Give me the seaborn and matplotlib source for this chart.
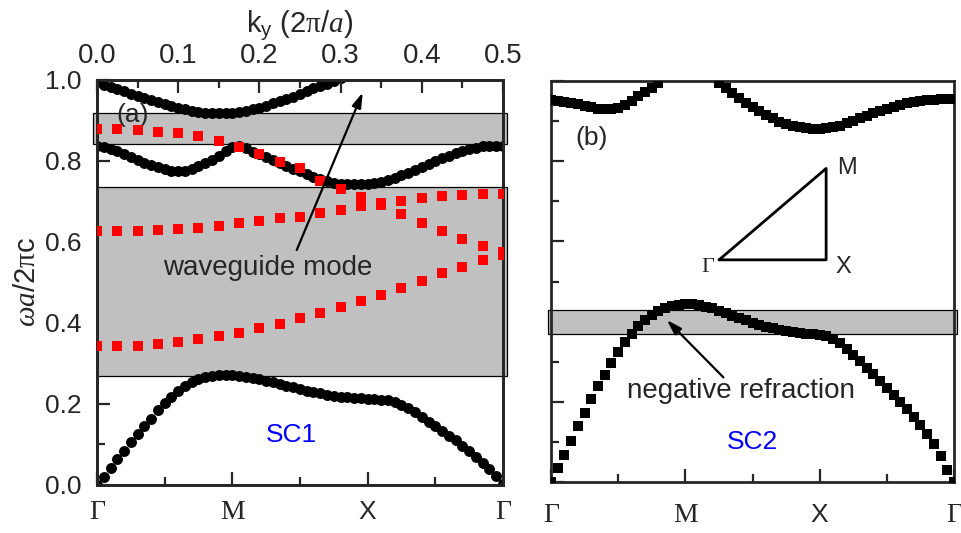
import numpy as np
import matplotlib
matplotlib.use("Agg")
import matplotlib.pyplot as plt
from matplotlib.patches import Rectangle
import seaborn as sns

# k-path Gamma-M-X-Gamma, 20 steps per segment
path = np.linspace(0, 3, 61)
path_ticks = [0, 1, 2, 3]
path_labels = ["Γ", "M", "X", "Γ"]

# SC1 bands (black circles)
sc1_band1 = [0.000, 0.019, 0.041, 0.063, 0.085, 0.106, 0.126, 0.145, 0.164, 0.184,
             0.202, 0.218, 0.232, 0.245, 0.255, 0.262, 0.267, 0.270, 0.271, 0.272,
             0.272, 0.270, 0.267, 0.264, 0.261, 0.257, 0.253, 0.249, 0.245, 0.241,
             0.237, 0.233, 0.229, 0.226, 0.222, 0.219, 0.217, 0.216, 0.215, 0.214,
             0.213, 0.213, 0.211, 0.209, 0.204, 0.197, 0.189, 0.179, 0.167, 0.156,
             0.145, 0.134, 0.122, 0.110, 0.097, 0.083, 0.069, 0.054, 0.039, 0.021,
             0.003]
sc1_band2 = [0.838, 0.835, 0.830, 0.824, 0.817, 0.809, 0.802, 0.795, 0.789, 0.784,
             0.779, 0.776, 0.775, 0.776, 0.780, 0.787, 0.794, 0.803, 0.813, 0.824,
             0.834, 0.836, 0.831, 0.823, 0.816, 0.809, 0.802, 0.795, 0.788, 0.781,
             0.775, 0.768, 0.761, 0.755, 0.750, 0.746, 0.744, 0.742, 0.742, 0.742,
             0.743, 0.745, 0.748, 0.752, 0.757, 0.764, 0.771, 0.778, 0.786, 0.793,
             0.800, 0.807, 0.813, 0.819, 0.824, 0.829, 0.833, 0.836, 0.837, 0.838,
             0.838]
# only visible up to M-X midway (goes above 1.0)
sc1_band3 = [0.995, 0.988, 0.982, 0.977, 0.972, 0.966, 0.961, 0.956, 0.951, 0.945,
             0.940, 0.935, 0.931, 0.927, 0.924, 0.921, 0.919, 0.918, 0.918, 0.918,
             0.919, 0.921, 0.924, 0.927, 0.931, 0.936, 0.942, 0.947, 0.953, 0.959,
             0.966, 0.973, 0.979, 0.985, 0.991, 0.997, 1.004]

# SC2 bands (black squares)
sc2_band1 = [0.000, 0.036, 0.067, 0.103, 0.140, 0.173, 0.207, 0.239, 0.268, 0.297,
             0.324, 0.348, 0.369, 0.389, 0.404, 0.416, 0.427, 0.434, 0.439, 0.442,
             0.443, 0.443, 0.441, 0.437, 0.433, 0.427, 0.421, 0.415, 0.409, 0.403,
             0.397, 0.392, 0.387, 0.383, 0.379, 0.376, 0.374, 0.372, 0.370, 0.369,
             0.367, 0.364, 0.357, 0.346, 0.332, 0.317, 0.301, 0.285, 0.269, 0.252,
             0.235, 0.218, 0.200, 0.182, 0.161, 0.141, 0.120, 0.095, 0.065, 0.031,
             0.000]
nan = np.nan
sc2_band2 = [0.953, 0.951, 0.948, 0.945, 0.942, 0.938, 0.934, 0.931, 0.929, 0.929,
             0.933, 0.940, 0.950, 0.963, 0.973, 0.983, 0.996, nan, nan, nan,
             nan, nan, nan, nan, nan, 0.995, 0.982, 0.969, 0.957, 0.945,
             0.934, 0.924, 0.915, 0.907, 0.899, 0.893, 0.888, 0.885, 0.883, 0.881,
             0.881, 0.882, 0.885, 0.889, 0.895, 0.901, 0.907, 0.913, 0.919, 0.925,
             0.930, 0.935, 0.940, 0.944, 0.947, 0.950, 0.952, 0.953, 0.954, 0.954,
             0.954]

# supercell (red squares) vs k_y
ky = [0.0, 0.025, 0.05, 0.075, 0.1, 0.125, 0.15, 0.175, 0.2, 0.225, 0.25,
      0.275, 0.3, 0.325, 0.35, 0.375, 0.4, 0.425, 0.45, 0.475, 0.5]
guide_a = [0.879, 0.879, 0.877, 0.872, 0.868, 0.862, 0.850, 0.835, 0.817, 0.798, 0.782,
           0.750, 0.730, 0.711, 0.695, 0.668, 0.646, 0.627, 0.607, 0.589, 0.576]
guide_b = [0.626, 0.626, 0.627, 0.630, 0.632, 0.635, 0.640, 0.646, 0.652, 0.658, 0.662,
           0.671, 0.679, 0.688, 0.692, 0.702, 0.708, 0.714, 0.717, 0.719, 0.719]
guide_c = [0.343, 0.342, 0.343, 0.348, 0.352, 0.360, 0.368, 0.376, 0.387, 0.398, 0.412,
           0.424, 0.439, 0.454, 0.469, 0.487, 0.504, 0.523, 0.539, 0.556, 0.568]

# band gaps (grey boxes)
gaps_sc1 = [(0.842, 0.919), (0.269, 0.735)]
gaps_sc2 = [(0.369, 0.429)]

# Brillouin zone inset
bz_x = [1.251, 2.048, 2.048, 1.251]
bz_y = [0.554, 0.554, 0.782, 0.554]

sns.set_style("ticks")
plt.rcParams["font.family"] = ["Liberation Sans", "DejaVu Sans"]
plt.rcParams["mathtext.fontset"] = "custom"
plt.rcParams["mathtext.rm"] = "Liberation Sans"
plt.rcParams["mathtext.it"] = "Liberation Serif:italic"
plt.rcParams["mathtext.sf"] = "Liberation Serif"

fig = plt.figure(figsize=(9.62, 5.33), dpi=100)
ax1 = fig.add_axes([0.1008, 0.0901, 0.422, 0.760])
ax2 = fig.add_axes([0.5728, 0.0957, 0.4189, 0.7523])


def band(ax, x, y, marker, s, color="black"):
    sns.scatterplot(x=x, y=y, ax=ax, marker=marker, s=s, color=color,
                    edgecolor=color, linewidth=0, legend=False, zorder=3)


def style(ax, ypad, xpad):
    ax.set_xlim(0, 3)
    ax.set_ylim(0, 1)
    ax.set_xticks(path_ticks)
    ax.set_xticks([0.5, 1.5, 2.5], minor=True)
    ax.set_yticks(np.arange(0, 1.01, 0.2))
    ax.set_yticks(np.arange(0.1, 1.0, 0.2), minor=True)
    ax.set_xticklabels(path_labels)
    for lab in ax.get_xticklabels():
        if lab.get_text() == "X":
            lab.set_fontsize(19)
        else:
            lab.set_family("Liberation Serif")
            lab.set_fontsize(20)
    ax.tick_params(which="both", direction="in", width=1.6, top=False, right=False)
    ax.tick_params(which="major", length=9.5)
    ax.tick_params(which="minor", length=5.5)
    ax.tick_params(axis="x", pad=xpad)
    ax.tick_params(axis="y", pad=ypad, labelsize=19)
    for sp in ax.spines.values():
        sp.set_linewidth(2)
    ax.set_xlabel("")
    ax.set_ylabel("")


# ---- panel (a) ----
for lo, hi in gaps_sc1:
    x0 = -0.03 if hi > 0.8 else 0.0
    ax1.add_patch(Rectangle((x0, lo), 3.03 - x0, hi - lo, facecolor="#c0c0c0",
                            edgecolor="black", lw=0.9, clip_on=False, zorder=1))
band(ax1, path, sc1_band1, "o", 62)
band(ax1, path, sc1_band2, "o", 62)
band(ax1, path[:len(sc1_band3)], sc1_band3, "o", 62)
style(ax1, 11, 11)
ax1.set_ylabel(r"$\omega a$/2$\mathsf{\pi}$c", fontsize=21, labelpad=3)
ax1.text(0.26, 0.914, "(a)", fontsize=19, ha="center", va="center")
ax1.text(1.44, 0.123, "SC1", fontsize=19, color="blue", ha="center", va="center")
ax1.text(1.264, 0.536, "waveguide mode", fontsize=20, ha="center", va="center")

top = ax1.twiny()
top.set_xlim(0, 0.5)
band(top, ky, guide_a, "s", 46, "red")
band(top, ky, guide_b, "s", 46, "red")
band(top, ky, guide_c, "s", 46, "red")
top.set_xticks(np.arange(0, 0.51, 0.1))
top.set_xticks(np.arange(0.05, 0.5, 0.1), minor=True)
top.set_xticklabels(["0.0", "0.1", "0.2", "0.3", "0.4", "0.5"])
top.tick_params(which="both", direction="in", width=1.6, labelsize=20, pad=8)
top.tick_params(which="major", length=9.5)
top.tick_params(which="minor", length=5.5)
top.set_xlabel(r"k$_{\rm y}$ (2$\mathsf{\pi}$/$a$)", fontsize=21, labelpad=7)
for sp in top.spines.values():
    sp.set_linewidth(2)
top.annotate("", xy=(1.964, 0.969), xytext=(1.476, 0.58),
             xycoords=ax1.transData, textcoords=ax1.transData,
             arrowprops=dict(arrowstyle="-|>,head_length=0.9,head_width=0.28",
                             color="black", lw=1.6, shrinkA=0, shrinkB=0))

# ---- panel (b) ----
for lo, hi in gaps_sc2:
    ax2.add_patch(Rectangle((-0.022, lo), 3.045, hi - lo, facecolor="#c0c0c0",
                            edgecolor="black", lw=0.9, clip_on=False, zorder=1))
band(ax2, path, sc2_band1, "s", 46)
band(ax2, path, sc2_band2, "s", 46)
style(ax2, 11, 15)
ax2.tick_params(axis="y", labelleft=False)
ax2.plot(bz_x, bz_y, color="black", lw=2, zorder=4)
ax2.text(2.13, 0.782, "M", fontsize=17, ha="left", va="center")
ax2.text(2.12, 0.535, "X", fontsize=17, ha="left", va="center")
ax2.text(1.17, 0.535, "Γ", fontsize=16, family="Liberation Serif", ha="center", va="center")
ax2.text(0.305, 0.858, "(b)", fontsize=19, ha="center", va="center")
ax2.text(1.50, 0.10, "SC2", fontsize=19, color="blue", ha="center", va="center")
ax2.text(1.415, 0.227, "negative refraction", fontsize=20, ha="center", va="center")
ax2.annotate("", xy=(0.862, 0.404), xytext=(1.283, 0.261),
             arrowprops=dict(arrowstyle="-|>,head_length=0.9,head_width=0.28",
                             color="black", lw=1.6, shrinkA=0, shrinkB=0), zorder=5)

fig.savefig("out.png", dpi=100)
